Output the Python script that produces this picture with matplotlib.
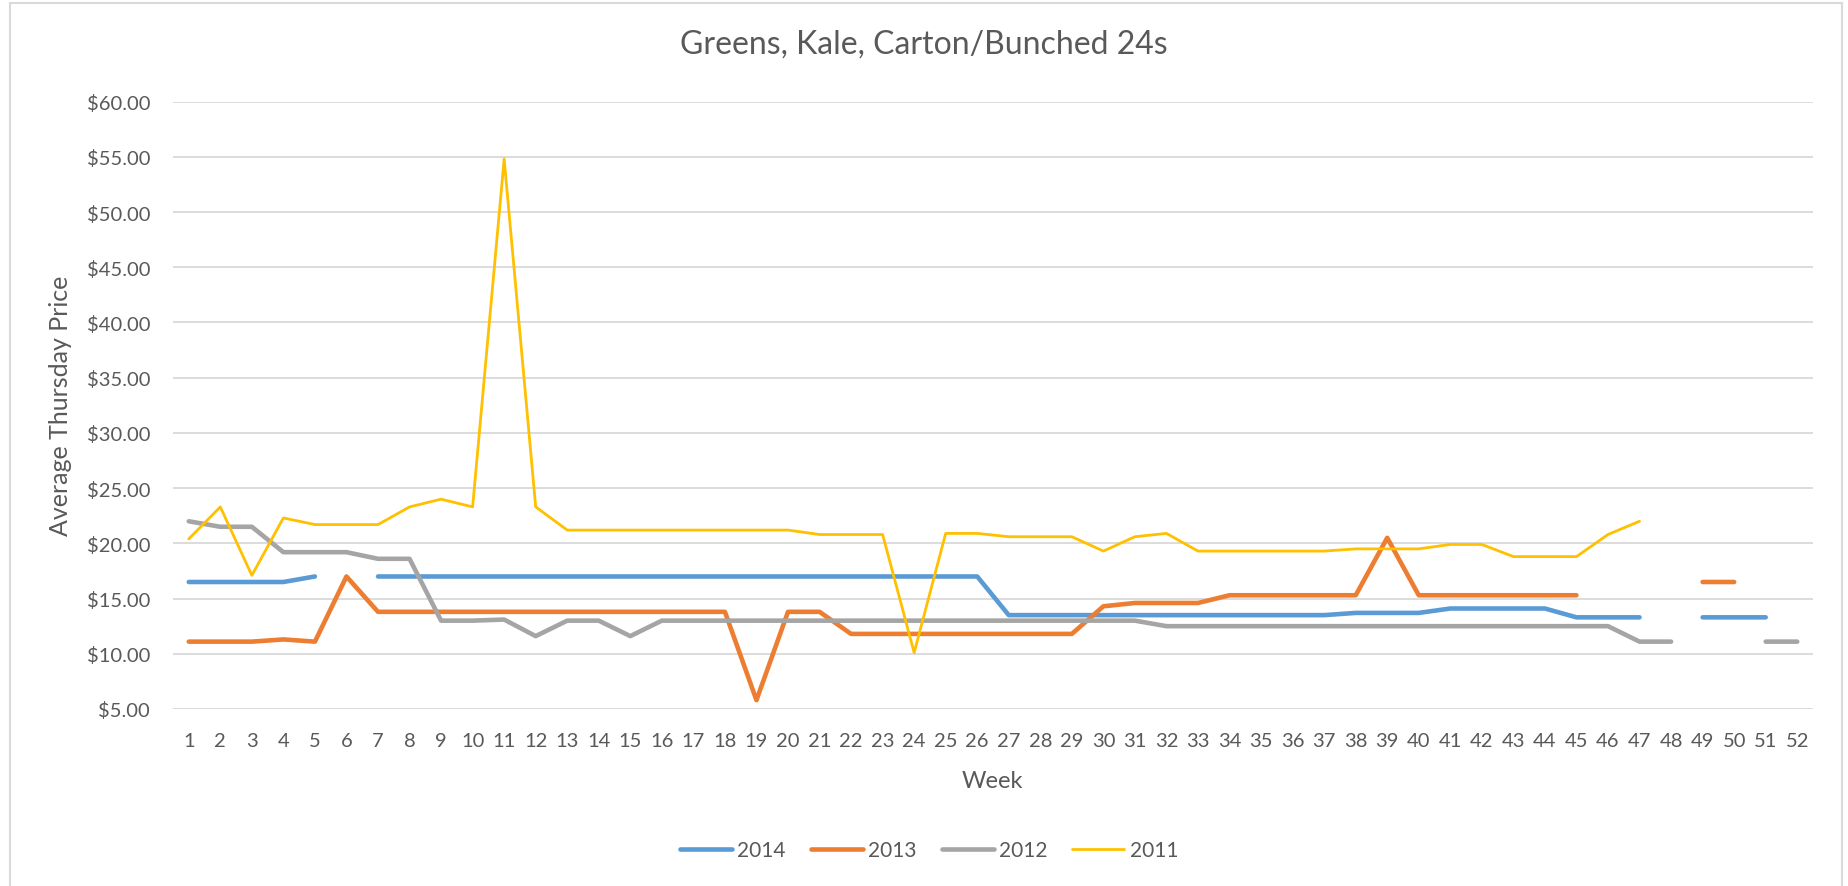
import numpy as np
import matplotlib
matplotlib.use("Agg")
import matplotlib.pyplot as plt
from matplotlib.lines import Line2D
from matplotlib.ticker import FuncFormatter

nan = np.nan
weeks = list(range(1, 53))

y2014 = ([16.5, 16.5, 16.5, 16.5, 17.0, nan] + [17.0] * 20 + [13.5] * 11 +
         [13.7] * 3 + [14.1] * 4 + [13.3] * 3 + [nan] + [13.3] * 3 + [nan])
y2013 = ([11.1, 11.1, 11.1, 11.3, 11.1, 17.0] + [13.8] * 12 + [5.8] + [13.8] * 2 +
         [11.8] * 8 + [14.3] + [14.6] * 3 + [15.3] * 5 + [20.5] + [15.3] * 6 +
         [nan] * 3 + [16.5] * 2 + [nan] * 2)
y2012 = ([22.0, 21.5, 21.5, 19.2, 19.2, 19.2, 18.6, 18.6, 13.0, 13.0, 13.1, 11.6,
          13.0, 13.0, 11.6] + [13.0] * 16 + [12.5] * 15 + [11.1] * 2 + [nan] * 2 +
         [11.1] * 2)
y2011 = ([20.4, 23.3, 17.1, 22.3, 21.7, 21.7, 21.7, 23.3, 24.0, 23.3, 54.8, 23.3] +
         [21.2] * 8 + [20.8] * 3 + [10.1] + [20.9] * 2 + [20.6] * 3 + [19.3, 20.6, 20.9] +
         [19.3] * 5 + [19.5] * 3 + [19.9] * 2 + [18.8] * 3 + [20.8, 22.0] + [nan] * 5)

series_names = ["2014", "2013", "2012", "2011"]
series_vals = [y2014, y2013, y2012, y2011]
colors = ["#5B9BD5", "#ED7D31", "#A5A5A5", "#FFC000"]
widths = [3.3, 3.3, 3.3, 2.0]

title = "Greens, Kale, Carton/Bunched 24s"
xlabel = "Week"
ylabel = "Average Thursday Price"
yticks = [5, 10, 15, 20, 25, 30, 35, 40, 45, 50, 55, 60]

TXT = "#595959"
GRID = "#D9D9D9"
plt.rcParams['font.family'] = ['Lato', 'DejaVu Sans']

W, H = 1849, 887
fig = plt.figure(figsize=(W / 100, H / 100), dpi=100)
L, R, T, B = 173, 1813, 102.6, 710
ax = fig.add_axes([L / W, 1 - B / H, (R - L) / W, (B - T) / H])

for name, vals, c, lw in zip(series_names, series_vals, colors, widths):
    ax.plot(weeks, vals, color=c, lw=lw, label=name,
            solid_capstyle='round', solid_joinstyle='round')

ax.set_xlim(0.5, 52.5)
ax.set_ylim(5, 60)
ax.set_xticks(weeks)
ax.set_xticklabels([str(w) for w in weeks])
ax.set_yticks(yticks)
ax.yaxis.set_major_formatter(FuncFormatter(lambda v, p: "${:.2f}".format(v)))
ax.grid(axis='y', color=GRID, lw=1.3)
ax.set_axisbelow(True)
for s in ax.spines.values():
    s.set_visible(False)
ax.tick_params(axis='both', length=0, labelsize=14.5, colors=TXT)
ax.tick_params(axis='x', pad=16.5)
ax.tick_params(axis='y', pad=16.5)

ax.set_xlabel(xlabel, fontsize=17, color=TXT)
ax.xaxis.label.set_va('baseline')
ax.xaxis.set_label_coords((992.5 - L) / (R - L), (B - 788) / (B - T))
ax.set_ylabel(ylabel, fontsize=18, color=TXT)
ax.yaxis.label.set_va('center')
ax.yaxis.set_label_coords((61 - L) / (R - L), 0.5)

fig.text(924 / W, 1 - 53.3 / H, title, fontsize=23, color=TXT, ha='center', va='baseline')

leg = fig.legend(loc='center', bbox_to_anchor=(929 / W, 1 - 851 / H), ncol=4,
                 frameon=False, fontsize=15, handlelength=2.5, handletextpad=0.25,
                 columnspacing=1.2, labelcolor=TXT)
for h in leg.get_lines():
    h.set_solid_capstyle('round')

# chart area frame (left, top, right)
fx0, fx1, fy0 = 10 / W, 1842 / W, 1 - 4 / H
for xs, ys in [([fx0, fx0], [fy0, 0]), ([fx0, fx1], [fy0, fy0]), ([fx1, fx1], [fy0, 0])]:
    fig.add_artist(Line2D(xs, ys, transform=fig.transFigure, color=GRID, lw=1.5))

fig.savefig("out.png", dpi=100)
